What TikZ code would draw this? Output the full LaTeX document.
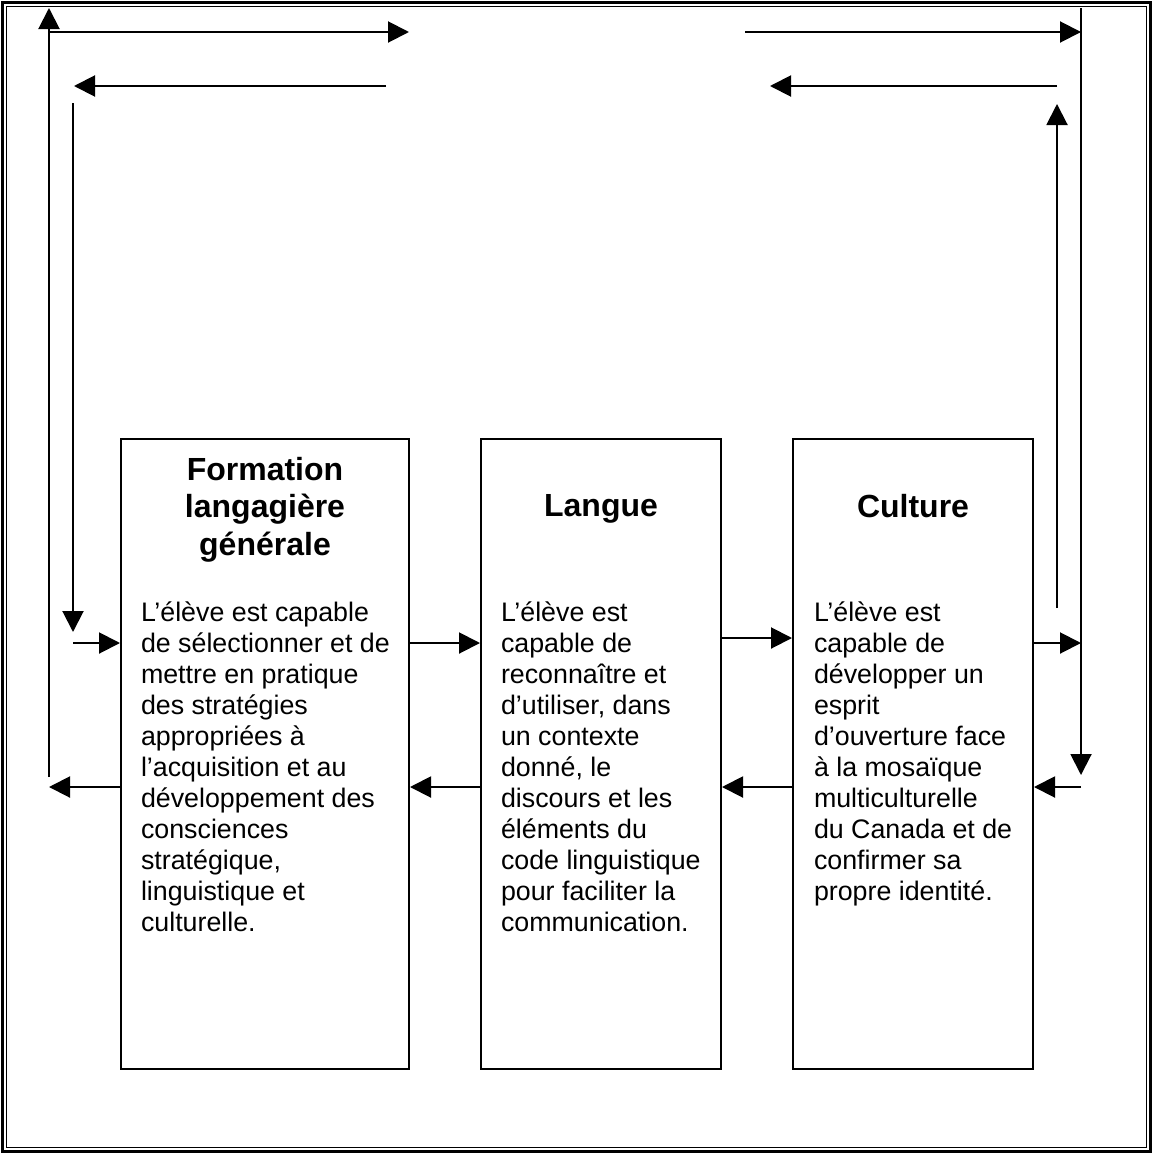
\documentclass[tikz,border=0pt]{standalone}
\usepackage{fontspec}
\setmainfont{Liberation Sans}
\usetikzlibrary{arrows.meta,positioning}

\begin{document}
\begin{tikzpicture}[x=1pt,y=-1pt,line width=2pt,
	arr/.style={-{Triangle[length=21pt,width=21pt]}},
	bloc/.style={draw,rectangle,minimum height=630pt,inner sep=0pt},
	titre/.style={font=\fontsize{32}{37.5}\selectfont\bfseries,align=center,inner sep=0pt},
	corps/.style={font=\fontsize{26.8}{31}\selectfont,align=left,inner sep=0pt}]
\useasboundingbox (0,0) rectangle (1153,1154);
\draw[line width=2.5pt] (2.5,2.5) rectangle (1150.5,1151.5);
\draw[line width=1pt] (6.5,6.5) rectangle (1146.5,1147.5);

\node[bloc,minimum width=288pt] (f) at (265,754) {};
\node[bloc,minimum width=240pt] (l) at (601,754) {};
\node[bloc,minimum width=240pt] (c) at (913,754) {};

\node[titre,below=18pt of f.north] (tf) {Formation\\langagière\\générale};
\node[titre,below=55pt of l.north] (tl) {Langue};
\node[titre,below=55pt of c.north] (tc) {Culture};

\node[corps,below right=163pt and 20pt of f.north west] (cf) {L’élève est capable\\de sélectionner et de\\mettre en pratique\\des stratégies\\appropriées à\\l’acquisition et au\\développement des\\consciences\\stratégique,\\linguistique et\\culturelle.};
\node[corps,below right=163pt and 20pt of l.north west] (cl) {L’élève est\\capable de\\reconnaître et\\d’utiliser, dans\\un contexte\\donné, le\\discours et les\\éléments du\\code linguistique\\pour faciliter la\\communication.};
\node[corps,below right=163pt and 21pt of c.north west] (cc) {L’élève est\\capable de\\développer un\\esprit\\d’ouverture face\\à la mosaïque\\multiculturelle\\du Canada et de\\confirmer sa\\propre identité.};

\coordinate (haut) at (0,643);
\coordinate (milieu) at (0,638);
\coordinate (bas) at (0,787);

\coordinate (gext-bas) at (49,777);
\coordinate (gext-haut) at (49,8);
\coordinate (aller-g) at (49,32);
\coordinate (aller-g-fin) at (409,32);
\coordinate (aller-d) at (745,32);
\coordinate (aller-d-fin) at (1081,32);
\coordinate (dext-haut) at (1081,8);
\coordinate (dext-bas) at (1081,775);
\coordinate (dext-retour) at (1081,787);
\coordinate (dint-bas) at (1057,608);
\coordinate (dint-haut) at (1057,104);
\coordinate (retour-d) at (1057,86);
\coordinate (retour-d-fin) at (770,86);
\coordinate (retour-g) at (386,86);
\coordinate (retour-g-fin) at (74,86);
\coordinate (gint-haut) at (73,103);
\coordinate (gint-bas) at (73,632);
\coordinate (gint-entree) at (73,643);
\coordinate (gext-retour) at (49,787);
\coordinate (dext-sortie) at (1081,643);

\draw[arr] (gext-bas) -- (gext-haut);
\draw[arr] (aller-g) -- (aller-g-fin);
\draw[arr] (aller-d) -- (aller-d-fin);
\draw[arr] (dext-haut) -- (dext-bas);
\draw[arr] (dint-bas) -- (dint-haut);
\draw[arr] (retour-d) -- (retour-d-fin);
\draw[arr] (retour-g) -- (retour-g-fin);
\draw[arr] (gint-haut) -- (gint-bas);

\draw[arr] (gint-entree) -- (f.west |- haut);
\draw[arr] (f.east |- haut) -- (l.west |- haut);
\draw[arr] (l.east |- milieu) -- (c.west |- milieu);
\draw[arr] (c.east |- haut) -- (dext-sortie);

\draw[arr] (dext-retour) -- (c.east |- bas);
\foreach \a/\b in {f/l,l/c}
	\draw[arr] (\b.west |- bas) -- (\a.east |- bas);
\draw[arr] (f.west |- bas) -- (gext-retour);
\end{tikzpicture}
\end{document}
